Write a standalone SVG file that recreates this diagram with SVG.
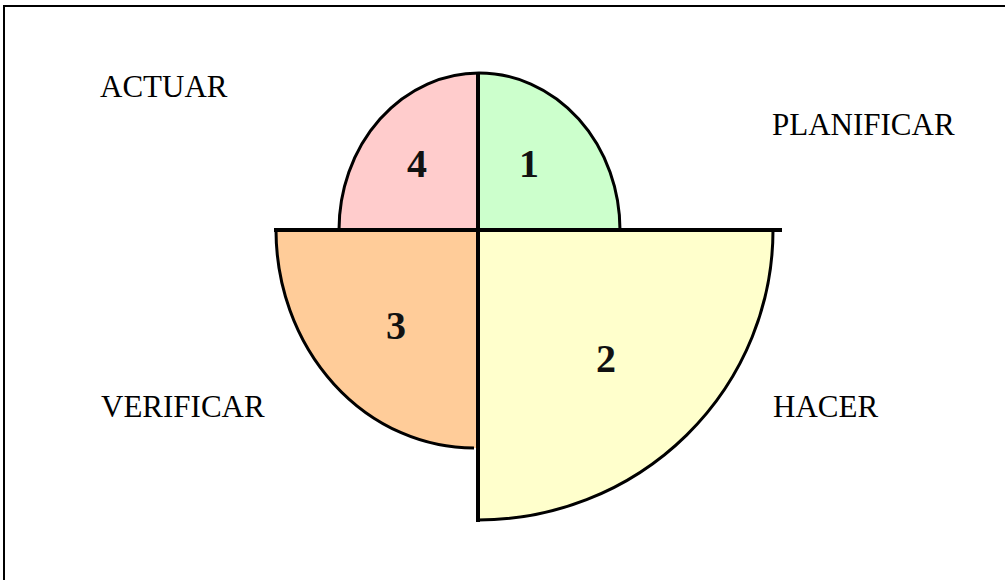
<svg xmlns="http://www.w3.org/2000/svg" width="1005" height="580" viewBox="0 0 1005 580">
<style>
.lbl{font-family:"Liberation Serif","Times New Roman",serif;font-size:31px;fill:#000}
.num{font-family:"Liberation Serif","Times New Roman",serif;font-size:40px;font-weight:bold;fill:#111;text-anchor:middle}
.arc{fill:none;stroke:#000;stroke-width:3}
.axis{stroke:#000;stroke-width:4;fill:none}
</style>
<rect width="1005" height="580" fill="#fff"/>
<path d="M4,580 V6 H1005" fill="none" stroke="#000" stroke-width="2"/>
<g id="q4">
<path d="M339,230 A140,157 0 0 1 479,73 V230 Z" fill="#FFCCCC"/>
<path class="arc" d="M339,230 A140,157 0 0 1 479,73"/>
<text class="num" x="417" y="177">4</text>
</g>
<g id="q1">
<path d="M479,73 A141,157 0 0 1 620,230 H479 Z" fill="#CCFFCC"/>
<path class="arc" d="M479,73 A141,157 0 0 1 620,230"/>
<text class="num" x="529" y="177">1</text>
</g>
<g id="q3">
<path d="M276,230 A198,218 0 0 0 474,448 H478 V230 Z" fill="#FFCC99"/>
<path class="arc" d="M276,230 A198,218 0 0 0 474,448"/>
<text class="num" x="396" y="339">3</text>
</g>
<g id="q2">
<path d="M478,230 H773 A295,290 0 0 1 478,520 Z" fill="#FFFFCC"/>
<path class="arc" d="M773,230 A295,290 0 0 1 478,520"/>
<text class="num" x="606" y="372">2</text>
</g>
<g id="connectors">
<line class="axis" x1="274" y1="230" x2="782" y2="230"/>
<line class="axis" x1="478" y1="72" x2="478" y2="522"/>
</g>
<g id="labels">
<text class="lbl" x="100" y="97">ACTUAR</text>
<text class="lbl" x="772" y="135">PLANIFICAR</text>
<text class="lbl" x="101" y="417">VERIFICAR</text>
<text class="lbl" x="773" y="417">HACER</text>
</g>
</svg>
